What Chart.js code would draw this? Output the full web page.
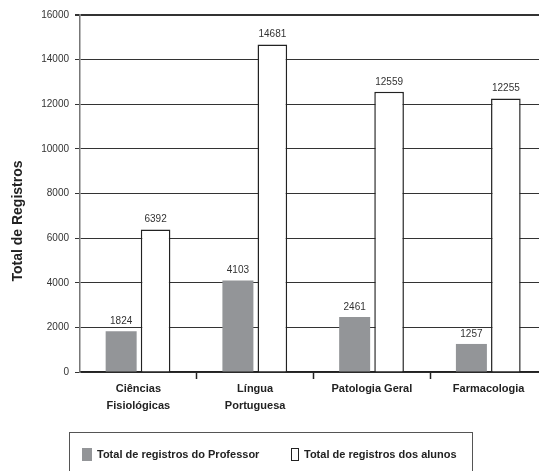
<!DOCTYPE html>
<html>
<head>
<meta charset="utf-8">
<script src="https://cdn.jsdelivr.net/npm/chart.js@4/dist/chart.umd.min.js"></script>
<style>
  body { margin: 0; overflow: hidden; background: #fff; font-family: "Liberation Sans", Arial, sans-serif; }
  #wrap { position: relative; width: 547px; height: 471px; }
  #legend { position: absolute; left: 69px; top: 432px; width: 404px; height: 60px; border: 1.5px solid #555; box-sizing: border-box; }
  .item { position: absolute; top: 15px; font-size: 11px; font-weight: bold; color: #222; line-height: 13px; white-space: nowrap; }
  .sw { display: inline-block; width: 10px; height: 13px; vertical-align: top; margin-right: 5px; box-sizing: border-box; }
</style>
</head>
<body>
<div id="wrap">
  <canvas id="chart" width="547" height="471"></canvas>
  <div id="legend"></div>
</div>
<script>
const categories = [["Ciências", "Fisiológicas"], ["Língua", "Portuguesa"], "Patologia Geral", "Farmacologia"];
const professorValues = [1824, 4103, 2461, 1257];
const alunosValues = [6392, 14681, 12559, 12255];
const seriesNames = ["Total de registros do Professor", "Total de registros dos alunos"];
const yMax = 16000;
const yStep = 2000;
const yTitleText = "Total de Registros";

const FONT = '"Liberation Sans", Arial, sans-serif';

// numbers above each bar
const valueLabels = {
  id: "valueLabels",
  afterDatasetsDraw(chart) {
    const ctx = chart.ctx;
    ctx.save();
    ctx.font = "10px " + FONT;
    ctx.fillStyle = "#333";
    ctx.textAlign = "center";
    ctx.textBaseline = "middle";
    chart.data.datasets.forEach((ds, i) => {
      chart.getDatasetMeta(i).data.forEach((bar, j) => {
        ctx.fillText(String(ds.data[j]), bar.x, bar.y - 10);
      });
    });
    ctx.restore();
  }
};

// y axis title, sits a bit lower than the middle in the original
const yTitle = {
  id: "yTitle",
  afterDraw(chart) {
    const ctx = chart.ctx;
    ctx.save();
    ctx.translate(18.5, 221);
    ctx.rotate(-Math.PI / 2);
    ctx.font = "bold 14px " + FONT;
    ctx.fillStyle = "#222";
    ctx.textAlign = "center";
    ctx.textBaseline = "middle";
    ctx.fillText(yTitleText, 0, 0);
    ctx.restore();
  }
};

new Chart(document.getElementById("chart"), {
  type: "bar",
  data: {
    labels: categories,
    datasets: [
      {
        label: seriesNames[0],
        data: professorValues,
        backgroundColor: "#939598",
        borderWidth: 0,
        categoryPercentage: 0.59,
        barPercentage: 0.9
      },
      {
        label: seriesNames[1],
        data: alunosValues,
        backgroundColor: "#fff",
        borderColor: "#222",
        borderWidth: 1.5,
        categoryPercentage: 0.59,
        barPercentage: 0.86
      }
    ]
  },
  options: {
    responsive: false,
    animation: false,
    layout: { padding: { top: 15, right: 0, bottom: 0, left: 0 } },
    plugins: {
      legend: { display: false },
      tooltip: { enabled: false }
    },
    scales: {
      x: {
        afterFit: (s) => { s.height = 99; },
        grid: {
          offset: true,
          drawOnChartArea: false,
          tickLength: 7,
          tickWidth: 1.5,
          tickColor: (c) => (c.index === 0 ? "rgba(0,0,0,0)" : "#222")
        },
        border: { color: "#222", width: 1.5 },
        ticks: {
          color: "#222",
          padding: 1,
          font: { family: FONT, size: 11, weight: "bold", lineHeight: 1.55 }
        }
      },
      y: {
        min: 0,
        max: yMax,
        afterFit: (s) => { s.width = 80; },
        ticks: {
          stepSize: yStep,
          color: "#333",
          padding: 6,
          font: { family: FONT, size: 10 },
          callback: (v) => String(v)
        },
        grid: {
          color: "#333",
          lineWidth: (c) => (c.tick && c.tick.value === yMax ? 2 : 1),
          tickLength: 5,
          tickColor: "#333"
        },
        border: { color: "#777", width: 1.5 }
      }
    }
  },
  plugins: [valueLabels, yTitle]
});

// legend box under the chart
const legend = document.getElementById("legend");
const swatches = [
  { left: 12, style: "background:#939598;" },
  { left: 221, style: "background:#fff;border:1px solid #222;width:8px;" }
];
seriesNames.forEach((name, i) => {
  const item = document.createElement("div");
  item.className = "item";
  item.style.left = swatches[i].left + "px";
  item.innerHTML = '<span class="sw" style="' + swatches[i].style + '"></span>' + name;
  legend.appendChild(item);
});
</script>
</body>
</html>
